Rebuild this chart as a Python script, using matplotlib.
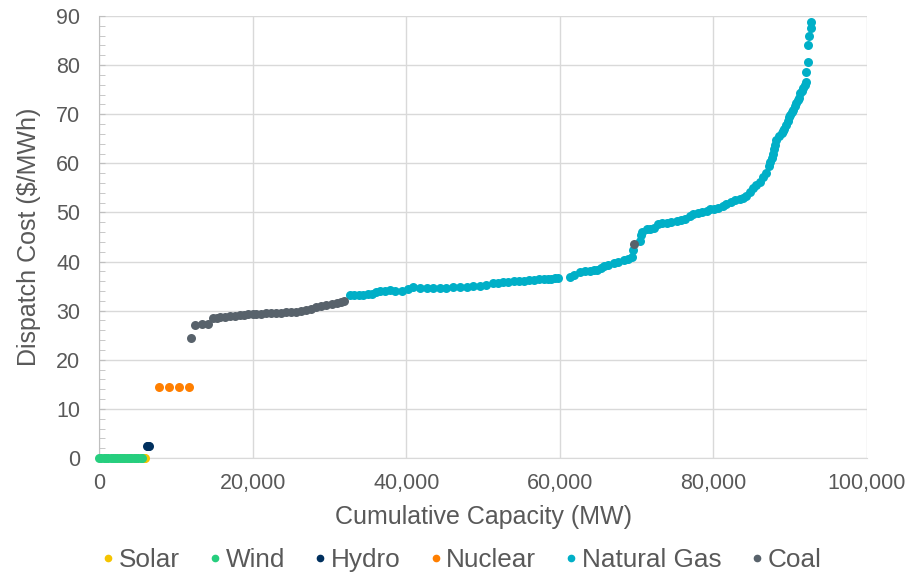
import matplotlib
matplotlib.use("Agg")
import matplotlib.pyplot as plt
import numpy as np
from matplotlib.lines import Line2D
from matplotlib.ticker import FuncFormatter, MultipleLocator

plt.rcParams["font.family"] = ["Liberation Sans", "DejaVu Sans"]

# capacities read in thousands of MW, costs in $/MWh
solar_x = [2.6, 3.4, 4.2, 5.6, 5.8, 5.95]
solar_y = [0, 0, 0, 0, 0, 0]

wind_x = [0.0, 0.3, 0.6, 0.9, 1.2, 1.5, 1.8, 2.1, 2.4, 2.7, 3.0,
          3.3, 3.6, 3.9, 4.2, 4.5, 4.8, 5.1, 5.4, 5.6]
wind_y = [0] * len(wind_x)

hydro_x = [6.2, 6.35, 6.5]
hydro_y = [2.5, 2.5, 2.5]

nuclear_x = [7.8, 9.1, 10.4, 11.7]
nuclear_y = [14.5, 14.5, 14.5, 14.5]

coal_x = [12.0, 12.5, 13.4, 14.2, 14.9, 15.4, 15.8, 16.4, 17.1, 17.7,
          18.4, 18.9, 19.4, 20.0, 20.5, 21.1, 21.8, 22.4, 23.1, 23.7,
          24.4, 25.0, 25.7, 26.3, 27.0, 27.6, 28.3, 28.9, 29.6, 30.3,
          31.0, 31.5, 31.9, 69.7]
coal_y = [24.4, 27.1, 27.3, 27.3, 28.5, 28.6, 28.7, 28.8, 28.9, 29.0,
          29.1, 29.2, 29.3, 29.3, 29.3, 29.4, 29.5, 29.5, 29.6, 29.6,
          29.7, 29.7, 29.8, 29.9, 30.1, 30.4, 30.7, 30.9, 31.2, 31.4,
          31.6, 31.8, 32.0, 43.5]

gas_x = [32.7, 33.2, 33.8, 34.4, 35.0, 35.5, 36.0, 36.6, 37.2, 37.9,
         38.6, 39.4, 40.2, 40.9, 41.8, 42.7, 43.5, 44.4, 45.2, 46.1,
         47.0, 47.9, 48.7, 49.6, 50.4, 51.3, 52.0, 52.6, 53.3, 54.0,
         54.7, 55.3, 56.0, 56.6, 57.3, 57.9, 58.4, 58.9, 59.4, 59.8,
         61.3, 61.9, 62.6, 63.3, 63.9, 64.4, 64.8, 65.3, 65.7, 66.3,
         67.0, 67.6, 68.3, 68.9, 69.4, 69.5, 70.4, 70.6, 70.7, 71.3,
         71.8, 72.2, 72.8, 73.3, 73.9, 74.5, 75.2, 75.8, 76.3, 76.9,
         77.4, 78.0, 78.5, 79.1, 79.6, 80.1, 80.6, 81.2, 81.7, 82.3,
         82.8, 83.4, 83.9, 84.3, 84.7, 85.2, 85.6, 86.1, 86.5, 86.9,
         87.2, 87.4, 87.6, 87.7, 87.9, 88.0, 88.2, 88.6, 88.9, 89.0,
         89.2, 89.5, 89.7, 89.9, 90.0, 90.2, 90.4, 90.6, 90.8, 91.0,
         91.1, 91.3, 91.5, 91.7, 91.9, 92.1, 92.1, 92.3, 92.3, 92.4,
         92.7, 92.7]
gas_y = [33.2, 33.2, 33.2, 33.2, 33.3, 33.4, 33.8, 34.0, 34.1, 34.2,
         34.1, 34.0, 34.4, 34.8, 34.7, 34.6, 34.6, 34.6, 34.7, 34.8,
         34.8, 34.8, 35.0, 35.1, 35.3, 35.6, 35.7, 35.8, 35.9, 36.0,
         36.1, 36.1, 36.2, 36.3, 36.4, 36.4, 36.5, 36.5, 36.6, 36.6,
         36.8, 37.2, 37.8, 38.0, 38.1, 38.2, 38.3, 38.7, 39.0, 39.3,
         39.7, 40.0, 40.3, 40.6, 40.9, 42.3, 44.1, 45.5, 46.1, 46.6,
         46.7, 46.8, 47.6, 47.8, 47.9, 48.1, 48.3, 48.4, 48.6, 49.2,
         49.6, 49.8, 50.0, 50.3, 50.6, 50.8, 50.9, 51.3, 51.7, 52.1,
         52.5, 52.8, 53.0, 53.3, 54.2, 54.9, 55.5, 56.3, 57.2, 58.0,
         59.5, 60.2, 61.0, 62.0, 63.0, 63.8, 64.8, 65.5, 66.1, 66.5,
         67.0, 67.8, 68.6, 69.4, 69.9, 70.5, 70.9, 71.6, 72.2, 72.8,
         73.3, 74.3, 74.8, 75.3, 75.9, 76.6, 78.5, 80.7, 84.1, 85.9,
         87.5, 88.8]

series = [
    ("Solar", solar_x, solar_y, "#F5C400"),
    ("Wind", wind_x, wind_y, "#26CE7E"),
    ("Hydro", hydro_x, hydro_y, "#00305E"),
    ("Nuclear", nuclear_x, nuclear_y, "#FF7F00"),
    ("Natural Gas", gas_x, gas_y, "#00AFC7"),
    ("Coal", coal_x, coal_y, "#58626B"),
]

text_color = "#595959"
grid_color = "#D9D9D9"

fig = plt.figure(figsize=(9.12, 5.76), dpi=100)
ax = fig.add_axes([0.1086, 0.2049, 0.8421, 0.7673])

handles = []
for name, xs, ys, color in series:
    ax.scatter(np.array(xs) * 1000, ys, s=42, color=color,
               linewidths=0, zorder=3, clip_on=False)
    handles.append(Line2D([], [], linestyle="none", marker="o",
                          markersize=4.5, color=color, label=name))

ax.set_xlim(0, 100000)
ax.set_ylim(0, 90)
ax.xaxis.set_major_locator(MultipleLocator(20000))
ax.yaxis.set_major_locator(MultipleLocator(10))
ax.yaxis.set_minor_locator(MultipleLocator(2))
ax.xaxis.set_major_formatter(FuncFormatter(lambda v, p: f"{v:,.0f}"))

ax.grid(True, color=grid_color, linewidth=1.0, zorder=0)
ax.set_axisbelow(True)

for side in ["top", "right"]:
    ax.spines[side].set_visible(False)
ax.spines["left"].set_color("#BFBFBF")
ax.spines["bottom"].set_color(grid_color)

ax.tick_params(axis="x", length=0, pad=11, labelsize=15.5,
               labelcolor=text_color)
ax.tick_params(axis="y", which="both", direction="in", length=4,
               color="#BFBFBF", pad=13.5, labelsize=15.5,
               labelcolor=text_color)

ax.set_xlabel("Cumulative Capacity (MW)", fontsize=18, color=text_color,
              labelpad=8)
ax.set_ylabel("Dispatch Cost ($/MWh)", fontsize=18, color=text_color,
              labelpad=11)

fig.legend(handles=handles, loc="center", bbox_to_anchor=(0.506, 0.028),
           ncol=6, frameon=False, fontsize=18.8, labelcolor=text_color,
           handlelength=0.5, handletextpad=0.15, columnspacing=1.1,
           borderaxespad=0, borderpad=0)

fig.savefig("out.png", dpi=100)
